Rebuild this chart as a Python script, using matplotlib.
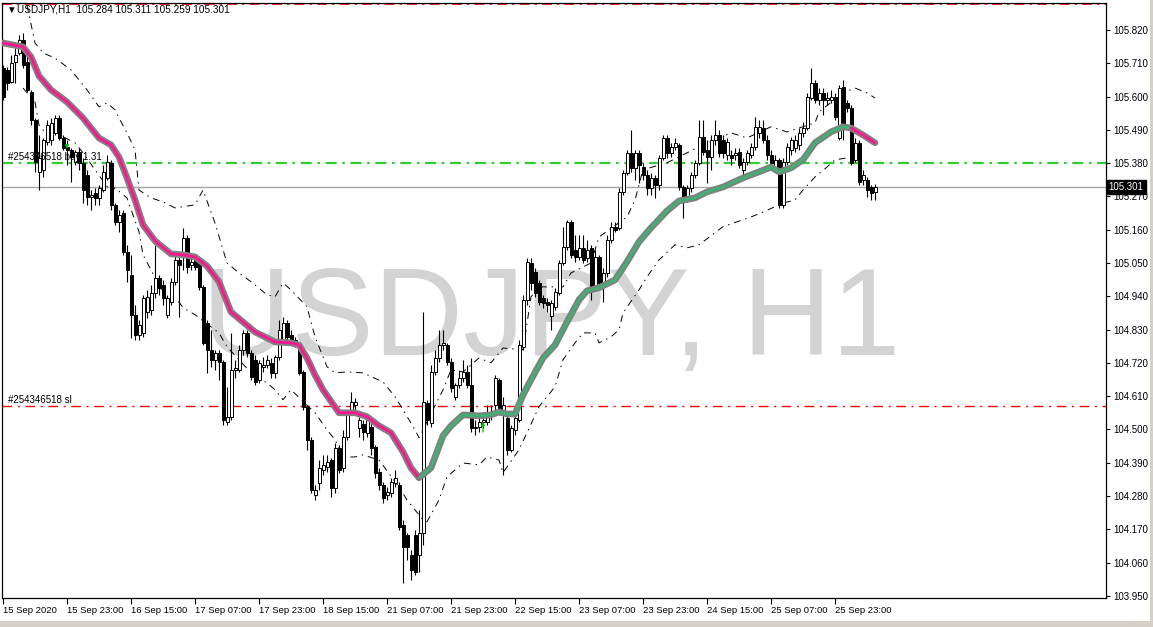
import matplotlib
matplotlib.use('Agg')
import matplotlib.pyplot as plt
from matplotlib.patches import Rectangle
from matplotlib.transforms import blended_transform_factory

plt.rcParams['font.family'] = ['Liberation Sans', 'DejaVu Sans']

# ---- data (USDJPY H1) ----
symbol = 'USDJPY'
period = 'H1'

opens = [
    105.695, 105.688, 105.648, 105.714, 105.744, 105.787, 105.714, 105.615, 105.523, 105.351,
    105.358, 105.450, 105.457, 105.480, 105.529, 105.463, 105.434, 105.424, 105.384, 105.417,
    105.381, 105.341, 105.268, 105.282, 105.265, 105.291, 105.331, 105.381, 105.242, 105.186,
    105.215, 105.087, 105.011, 104.879, 104.812, 104.819, 104.888, 104.895, 104.951, 105.001,
    104.978, 104.879, 104.921, 104.988, 105.060, 105.070, 105.133, 105.044, 105.070, 105.050,
    104.971, 104.852, 104.763, 104.730, 104.753, 104.723, 104.525, 104.542, 104.697, 104.697,
    104.763, 104.819, 104.753, 104.730, 104.664, 104.707, 104.713, 104.720, 104.687, 104.740,
    104.796, 104.852, 104.812, 104.796, 104.779, 104.690, 104.575, 104.466, 104.284, 104.323,
    104.366, 104.376, 104.399, 104.307, 104.439, 104.373, 104.475, 104.555, 104.581, 104.505,
    104.518, 104.489, 104.509, 104.442, 104.360, 104.317, 104.284, 104.290, 104.323, 104.317,
    104.185, 104.152, 104.086, 104.152, 104.086, 104.158, 104.588, 104.522, 104.690, 104.736,
    104.779, 104.779, 104.723, 104.608, 104.647, 104.670, 104.690, 104.647, 104.505, 104.509,
    104.525, 104.525, 104.548, 104.581, 104.664, 104.555, 104.538, 104.433, 104.499, 104.532,
    104.773, 104.928, 105.050, 105.021, 104.984, 104.935, 104.921, 104.875, 104.905, 104.951,
    105.050, 105.103, 105.186, 105.093, 105.070, 105.100, 105.067, 105.100, 104.971, 105.070,
    104.988, 105.017, 105.126, 105.169, 105.166, 105.285, 105.348, 105.414, 105.364, 105.414,
    105.367, 105.341, 105.298, 105.331, 105.308, 105.397, 105.463, 105.414, 105.434, 105.440,
    105.301, 105.265, 105.298, 105.341, 105.381, 105.467, 105.424, 105.400, 105.457, 105.473,
    105.457, 105.407, 105.407, 105.407, 105.417, 105.358, 105.384, 105.407, 105.434, 105.480,
    105.496, 105.457, 105.407, 105.364, 105.391, 105.242, 105.384, 105.424, 105.430, 105.440,
    105.480, 105.496, 105.595, 105.645, 105.589, 105.612, 105.589, 105.589, 105.599, 105.463,
    105.632, 105.579, 105.562, 105.391, 105.447, 105.325, 105.325, 105.301, 105.284,
]
highs = [
    105.704, 105.698, 105.737, 105.761, 105.803, 105.810, 105.737, 105.622, 105.529, 105.473,
    105.463, 105.523, 105.529, 105.539, 105.539, 105.473, 105.457, 105.430, 105.424, 105.430,
    105.397, 105.358, 105.291, 105.298, 105.308, 105.374, 105.407, 105.391, 105.248, 105.225,
    105.225, 105.110, 105.077, 104.912, 104.862, 104.945, 104.961, 104.978, 105.110, 105.011,
    104.994, 104.945, 105.001, 105.077, 105.070, 105.166, 105.143, 105.070, 105.077, 105.054,
    104.978, 104.862, 104.829, 104.763, 104.763, 104.730, 104.641, 104.819, 104.730, 104.779,
    104.829, 104.829, 104.763, 104.746, 104.730, 104.740, 104.746, 104.736, 104.746, 104.862,
    104.872, 104.862, 104.829, 104.806, 104.786, 104.697, 104.581, 104.475, 104.317, 104.399,
    104.416, 104.416, 104.406, 104.456, 104.449, 104.499, 104.565, 104.624, 104.604, 104.542,
    104.532, 104.542, 104.532, 104.449, 104.373, 104.327, 104.310, 104.340, 104.366, 104.327,
    104.201, 104.158, 104.102, 104.168, 104.234, 104.888, 104.598, 104.713, 104.763, 104.829,
    104.829, 104.786, 104.736, 104.654, 104.697, 104.730, 104.713, 104.736, 104.532, 104.538,
    104.548, 104.581, 104.581, 104.680, 104.670, 104.608, 104.548, 104.515, 104.555, 104.796,
    104.945, 105.067, 105.067, 105.034, 104.994, 104.945, 104.935, 104.928, 104.968, 105.060,
    105.169, 105.192, 105.192, 105.143, 105.143, 105.143, 105.126, 105.110, 105.093, 105.077,
    105.034, 105.143, 105.186, 105.186, 105.298, 105.358, 105.424, 105.490, 105.424, 105.424,
    105.381, 105.358, 105.348, 105.341, 105.407, 105.473, 105.473, 105.447, 105.463, 105.447,
    105.308, 105.308, 105.351, 105.391, 105.523, 105.523, 105.457, 105.473, 105.523, 105.490,
    105.473, 105.463, 105.424, 105.430, 105.430, 105.397, 105.424, 105.447, 105.533, 105.523,
    105.523, 105.473, 105.424, 105.407, 105.397, 105.397, 105.447, 105.467, 105.473, 105.496,
    105.516, 105.612, 105.695, 105.655, 105.628, 105.628, 105.615, 105.622, 105.612, 105.638,
    105.655, 105.589, 105.572, 105.463, 105.457, 105.358, 105.334, 105.308, 105.311,
]
lows = [
    105.589, 105.622, 105.645, 105.645, 105.737, 105.695, 105.615, 105.506, 105.351, 105.291,
    105.334, 105.440, 105.440, 105.473, 105.457, 105.424, 105.374, 105.318, 105.374, 105.358,
    105.248, 105.242, 105.225, 105.242, 105.242, 105.285, 105.325, 105.225, 105.176, 105.153,
    105.077, 104.988, 104.803, 104.796, 104.796, 104.806, 104.869, 104.879, 104.935, 104.945,
    104.912, 104.869, 104.912, 104.978, 104.872, 105.027, 105.017, 105.027, 105.027, 104.961,
    104.779, 104.687, 104.707, 104.697, 104.664, 104.515, 104.515, 104.532, 104.670, 104.690,
    104.746, 104.740, 104.664, 104.647, 104.654, 104.690, 104.703, 104.670, 104.670, 104.730,
    104.786, 104.796, 104.779, 104.773, 104.680, 104.565, 104.433, 104.290, 104.267, 104.300,
    104.350, 104.360, 104.277, 104.290, 104.357, 104.360, 104.466, 104.548, 104.565, 104.475,
    104.466, 104.475, 104.416, 104.340, 104.300, 104.257, 104.267, 104.277, 104.310, 104.168,
    103.993, 104.069, 104.003, 104.020, 104.029, 104.119, 104.515, 104.509, 104.680, 104.723,
    104.763, 104.713, 104.624, 104.598, 104.637, 104.657, 104.637, 104.492, 104.482, 104.492,
    104.505, 104.515, 104.532, 104.565, 104.548, 104.350, 104.416, 104.426, 104.482, 104.525,
    104.763, 104.912, 104.961, 104.938, 104.912, 104.902, 104.888, 104.829, 104.895, 104.945,
    105.044, 105.093, 105.067, 105.054, 105.060, 105.050, 105.054, 104.928, 104.961, 104.971,
    104.921, 105.004, 105.116, 105.153, 105.159, 105.275, 105.341, 105.351, 105.325, 105.315,
    105.325, 105.275, 105.275, 105.265, 105.291, 105.391, 105.397, 105.400, 105.424, 105.291,
    105.199, 105.252, 105.285, 105.331, 105.374, 105.407, 105.315, 105.358, 105.440, 105.400,
    105.397, 105.391, 105.374, 105.391, 105.364, 105.341, 105.374, 105.397, 105.424, 105.463,
    105.447, 105.391, 105.358, 105.351, 105.232, 105.232, 105.374, 105.407, 105.417, 105.424,
    105.467, 105.490, 105.589, 105.579, 105.572, 105.539, 105.572, 105.579, 105.523, 105.457,
    105.457, 105.549, 105.374, 105.384, 105.308, 105.308, 105.268, 105.258, 105.259,
]
closes = [
    105.599, 105.645, 105.711, 105.737, 105.787, 105.704, 105.622, 105.523, 105.384, 105.397,
    105.457, 105.506, 105.513, 105.529, 105.463, 105.430, 105.424, 105.400, 105.417, 105.381,
    105.291, 105.268, 105.275, 105.265, 105.298, 105.351, 105.384, 105.242, 105.186, 105.209,
    105.087, 105.027, 104.879, 104.812, 104.845, 104.935, 104.938, 104.951, 105.001, 104.968,
    104.935, 104.935, 104.988, 105.060, 105.044, 105.133, 105.037, 105.054, 105.037, 104.971,
    104.786, 104.763, 104.730, 104.753, 104.723, 104.532, 104.542, 104.697, 104.703, 104.763,
    104.819, 104.753, 104.674, 104.657, 104.720, 104.713, 104.730, 104.687, 104.740, 104.829,
    104.852, 104.806, 104.796, 104.789, 104.687, 104.575, 104.466, 104.300, 104.300, 104.373,
    104.383, 104.393, 104.307, 104.439, 104.366, 104.475, 104.555, 104.591, 104.591, 104.532,
    104.492, 104.532, 104.439, 104.357, 104.317, 104.274, 104.294, 104.327, 104.340, 104.178,
    104.112, 104.112, 104.036, 104.029, 104.158, 104.591, 104.532, 104.690, 104.736, 104.779,
    104.786, 104.723, 104.637, 104.647, 104.670, 104.690, 104.647, 104.505, 104.509, 104.525,
    104.532, 104.555, 104.558, 104.670, 104.555, 104.581, 104.433, 104.505, 104.538, 104.779,
    104.928, 105.054, 104.984, 104.951, 104.921, 104.918, 104.912, 104.918, 104.954, 105.050,
    105.103, 105.186, 105.077, 105.070, 105.100, 105.060, 105.093, 104.961, 105.070, 104.984,
    105.017, 105.126, 105.169, 105.159, 105.285, 105.348, 105.414, 105.364, 105.414, 105.374,
    105.341, 105.298, 105.331, 105.308, 105.397, 105.463, 105.414, 105.434, 105.447, 105.301,
    105.265, 105.298, 105.341, 105.381, 105.467, 105.417, 105.400, 105.457, 105.473, 105.414,
    105.414, 105.450, 105.397, 105.414, 105.374, 105.384, 105.414, 105.434, 105.500, 105.500,
    105.457, 105.407, 105.381, 105.391, 105.242, 105.384, 105.434, 105.457, 105.457, 105.480,
    105.496, 105.599, 105.645, 105.589, 105.612, 105.589, 105.595, 105.599, 105.533, 105.628,
    105.506, 105.562, 105.381, 105.447, 105.318, 105.341, 105.291, 105.282, 105.301,
]

date_labels = ['15 Sep 2020', '15 Sep 23:00', '16 Sep 15:00', '17 Sep 07:00',
               '17 Sep 23:00', '18 Sep 15:00', '21 Sep 07:00', '21 Sep 23:00',
               '22 Sep 15:00', '23 Sep 07:00', '23 Sep 23:00', '24 Sep 15:00',
               '25 Sep 07:00', '25 Sep 23:00']
bars_per_label = 16
price_ticks = [105.820, 105.710, 105.600, 105.490, 105.380, 105.270, 105.160,
               105.050, 104.940, 104.830, 104.720, 104.610, 104.500, 104.390,
               104.280, 104.170, 104.060, 103.950]

# smoothed moving average (bar index, value) and the bars where its colour flips
ma_bars = [0, 5, 7, 9, 12, 16, 20, 24, 27, 29, 31, 33, 35, 38, 42, 45, 48, 51, 54,
           57, 60, 63, 68, 72, 74, 76, 78, 80, 84, 88, 91, 94, 97, 100, 102, 104,
           107, 110, 112, 115, 119, 122, 124, 126, 128, 130, 132, 135, 138, 141,
           144, 146, 149, 153, 156, 159, 162, 166, 169, 173, 176, 180, 185, 189,
           192, 194, 197, 200, 203, 207, 210, 212, 215, 218]
ma_vals = [105.777, 105.764, 105.731, 105.668, 105.622, 105.582, 105.529, 105.463,
           105.440, 105.400, 105.331, 105.258, 105.176, 105.123, 105.080, 105.077,
           105.070, 105.040, 104.988, 104.888, 104.855, 104.822, 104.789, 104.786,
           104.779, 104.736, 104.680, 104.631, 104.555, 104.555, 104.542, 104.512,
           104.489, 104.426, 104.373, 104.340, 104.373, 104.479, 104.512, 104.548,
           104.545, 104.548, 104.558, 104.551, 104.551, 104.614, 104.664, 104.736,
           104.779, 104.855, 104.928, 104.958, 104.968, 104.994, 105.054, 105.120,
           105.166, 105.222, 105.255, 105.265, 105.285, 105.301, 105.331, 105.351,
           105.367, 105.351, 105.364, 105.391, 105.447, 105.483, 105.500, 105.496,
           105.473, 105.447]
ma_turns = [104, 212]

upper_bars = [6, 8, 10, 13, 17, 19, 21, 24, 26, 28, 29, 31, 33, 34, 37, 40, 43, 48,
              50, 53, 56, 59, 62, 66, 68, 70, 72, 76, 78, 81, 83, 86, 90, 95, 98, 100,
              103, 104, 110, 112, 115, 119, 122, 125, 130, 132, 134, 140, 142, 147,
              149, 156, 158, 160, 166, 171, 174, 182, 186, 192, 196, 203, 204, 210,
              213, 216, 218]
upper_vals = [105.902, 105.777, 105.744, 105.727, 105.688, 105.655, 105.622, 105.566,
              105.579, 105.556, 105.529, 105.480, 105.424, 105.291, 105.265, 105.252,
              105.232, 105.242, 105.291, 105.182, 105.050, 105.017, 104.988, 104.945,
              104.938, 104.984, 104.961, 104.905, 104.806, 104.707, 104.687, 104.690,
              104.687, 104.657, 104.608, 104.565, 104.499, 104.472, 104.631, 104.697,
              104.690, 104.736, 104.720, 104.769, 104.763, 104.938, 104.971, 104.971,
              105.017, 105.050, 105.136, 105.202, 105.258, 105.358, 105.381, 105.414,
              105.434, 105.480, 105.463, 105.500, 105.483, 105.513, 105.549, 105.612,
              105.628, 105.612, 105.595]

lower_bars = [5, 8, 9, 11, 15, 18, 20, 23, 27, 28, 31, 34, 35, 37, 41, 44, 45, 48, 54,
              56, 59, 63, 66, 68, 70, 72, 78, 81, 83, 85, 88, 90, 94, 99, 101, 103,
              105, 106, 109, 111, 115, 119, 121, 124, 125, 126, 129, 131, 134, 138,
              140, 143, 145, 148, 149, 152, 154, 155, 159, 161, 164, 168, 171, 174,
              180, 187, 190, 195, 198, 200, 203, 206, 208, 211, 214]
lower_vals = [105.628, 105.582, 105.506, 105.473, 105.467, 105.447, 105.414, 105.358,
              105.285, 105.298, 105.265, 105.153, 105.077, 105.027, 104.928, 104.921,
              104.902, 104.879, 104.819, 104.773, 104.730, 104.674, 104.654, 104.631,
              104.598, 104.631, 104.555, 104.499, 104.466, 104.409, 104.409, 104.416,
              104.399, 104.310, 104.267, 104.234, 104.201, 104.195, 104.267, 104.343,
              104.389, 104.383, 104.409, 104.399, 104.357, 104.376, 104.433, 104.489,
              104.575, 104.641, 104.730, 104.786, 104.819, 104.819, 104.786, 104.806,
              104.829, 104.885, 104.961, 105.004, 105.060, 105.110, 105.100, 105.110,
              105.170, 105.202, 105.218, 105.248, 105.258, 105.291, 105.334, 105.367,
              105.391, 105.397, 105.390]

ticket = '#254346518'
buy_level = 105.381
sl_level = 104.578
tp_level = 105.905
bid = 105.301
# trade arrows: bar, tail price, head price
arrows = [(16, 105.450, 105.418), (120, 104.482, 104.535)]

# ---- figure ----
W, H = 1153, 627
fig = plt.figure(figsize=(W / 100, H / 100), dpi=100)
fig.patch.set_facecolor('white')
ax = fig.add_axes([2 / W, (H - 598) / H, 1104 / W, 595 / H])
ax.set_xlim(-0.25, 275.75)
ax.set_ylim(103.943, 105.909)

# watermark
ax.text(0.497, 0.408, '%s, %s' % (symbol, period), transform=ax.transAxes,
        ha='center', va='baseline', fontsize=89, color='#d3d3d3',
        family='Liberation Sans', zorder=0)

# horizontal levels
ax.axhline(tp_level, color='red', lw=1.2, ls=(0, (6, 3, 1.5, 3)), zorder=1)
ax.axhline(buy_level, color='#32cd32', lw=1.6, ls=(0, (5, 2.5, 1.2, 2.5)), zorder=1)
ax.axhline(sl_level, color='red', lw=1.0, ls=(0, (7, 4, 1.5, 4)), zorder=1)
ax.axhline(bid, color='#a8a8a8', lw=1.0, zorder=1)

# envelope bands
band_style = dict(color='black', lw=0.7, ls=(0, (7, 5, 1.5, 5)), zorder=2)
ax.plot(upper_bars, upper_vals, **band_style)
ax.plot(lower_bars, lower_vals, **band_style)

# candles
for i in range(len(opens)):
    o, h, l, c = opens[i], highs[i], lows[i], closes[i]
    ax.vlines(i, l, h, color='black', lw=0.8, zorder=3)
    bull = c >= o
    ax.bar(i, abs(c - o), bottom=min(o, c), width=0.75,
           color='white' if bull else 'black', edgecolor='black',
           linewidth=0.7, zorder=4)

# moving average: grey halo with coloured core
ax.plot(ma_bars, ma_vals, color='#808080', lw=4.8, solid_capstyle='round',
        solid_joinstyle='round', zorder=5)
segs = [(0, ma_turns[0], '#ff1493'), (ma_turns[0], ma_turns[1], '#3cb371'),
        (ma_turns[1], 10 ** 6, '#ff1493')]
for a, b, col in segs:
    xs = [x for x in ma_bars if a <= x <= b]
    ys = [v for x, v in zip(ma_bars, ma_vals) if a <= x <= b]
    ax.plot(xs, ys, color=col, lw=2.0, solid_capstyle='round',
            solid_joinstyle='round', zorder=6)

# trade arrows
for b, y0, y1 in arrows:
    ax.annotate('', xy=(b, y1), xytext=(b, y0),
                arrowprops=dict(arrowstyle='-|>', color='#00c800', lw=0.9,
                                mutation_scale=5), zorder=7)

# trade labels
ax.text(1.2, buy_level + 0.004, ticket + ' buy 1.31', fontsize=7,
        va='bottom', ha='left', color='black', zorder=8)
ax.text(1.2, sl_level + 0.004, ticket + ' sl', fontsize=7,
        va='bottom', ha='left', color='black', zorder=8)

# axes styling
for s in ax.spines.values():
    s.set_color('black')
    s.set_linewidth(0.9)
ax.yaxis.tick_right()
ax.set_yticks(price_ticks)
ax.set_yticklabels(['%.3f' % p for p in price_ticks])
ax.set_xticks([k * bars_per_label for k in range(len(date_labels))])
ax.set_xticklabels(date_labels, ha='left')
ax.tick_params(axis='y', direction='out', length=3, width=0.8, pad=2,
               labelsize=7, colors='black')
ax.tick_params(axis='x', direction='out', length=4, width=0.8, pad=2,
               labelsize=6.8, colors='black')

# bid price box on the right scale
tr = blended_transform_factory(ax.transAxes, ax.transData)
ax.text(1.0025, bid, '%.3f' % bid, transform=tr, fontsize=7, color='white',
        va='center', ha='left', zorder=9,
        bbox=dict(boxstyle='square,pad=0.2', fc='black', ec='black'))

# header line
fig.text(6 / W, 1 - 10 / H, '\u25bc', fontsize=7, va='center', ha='left')
fig.text(17 / W, 1 - 10 / H, '%s,%s  %.3f %.3f %.3f %.3f' % (
    symbol, period, opens[-1], highs[-1], lows[-1], closes[-1]),
    fontsize=7.2, va='center', ha='left')

# terminal frame bits
fig.patches.append(Rectangle((0, 0), 1, 6 / H, transform=fig.transFigure,
                             fc='#d4d0c8', ec='none'))
fig.patches.append(Rectangle((1150 / W, 6 / H), 3 / W, 1, transform=fig.transFigure,
                             fc='#d4d0c8', ec='none'))

fig.savefig('out.png', dpi=100)
